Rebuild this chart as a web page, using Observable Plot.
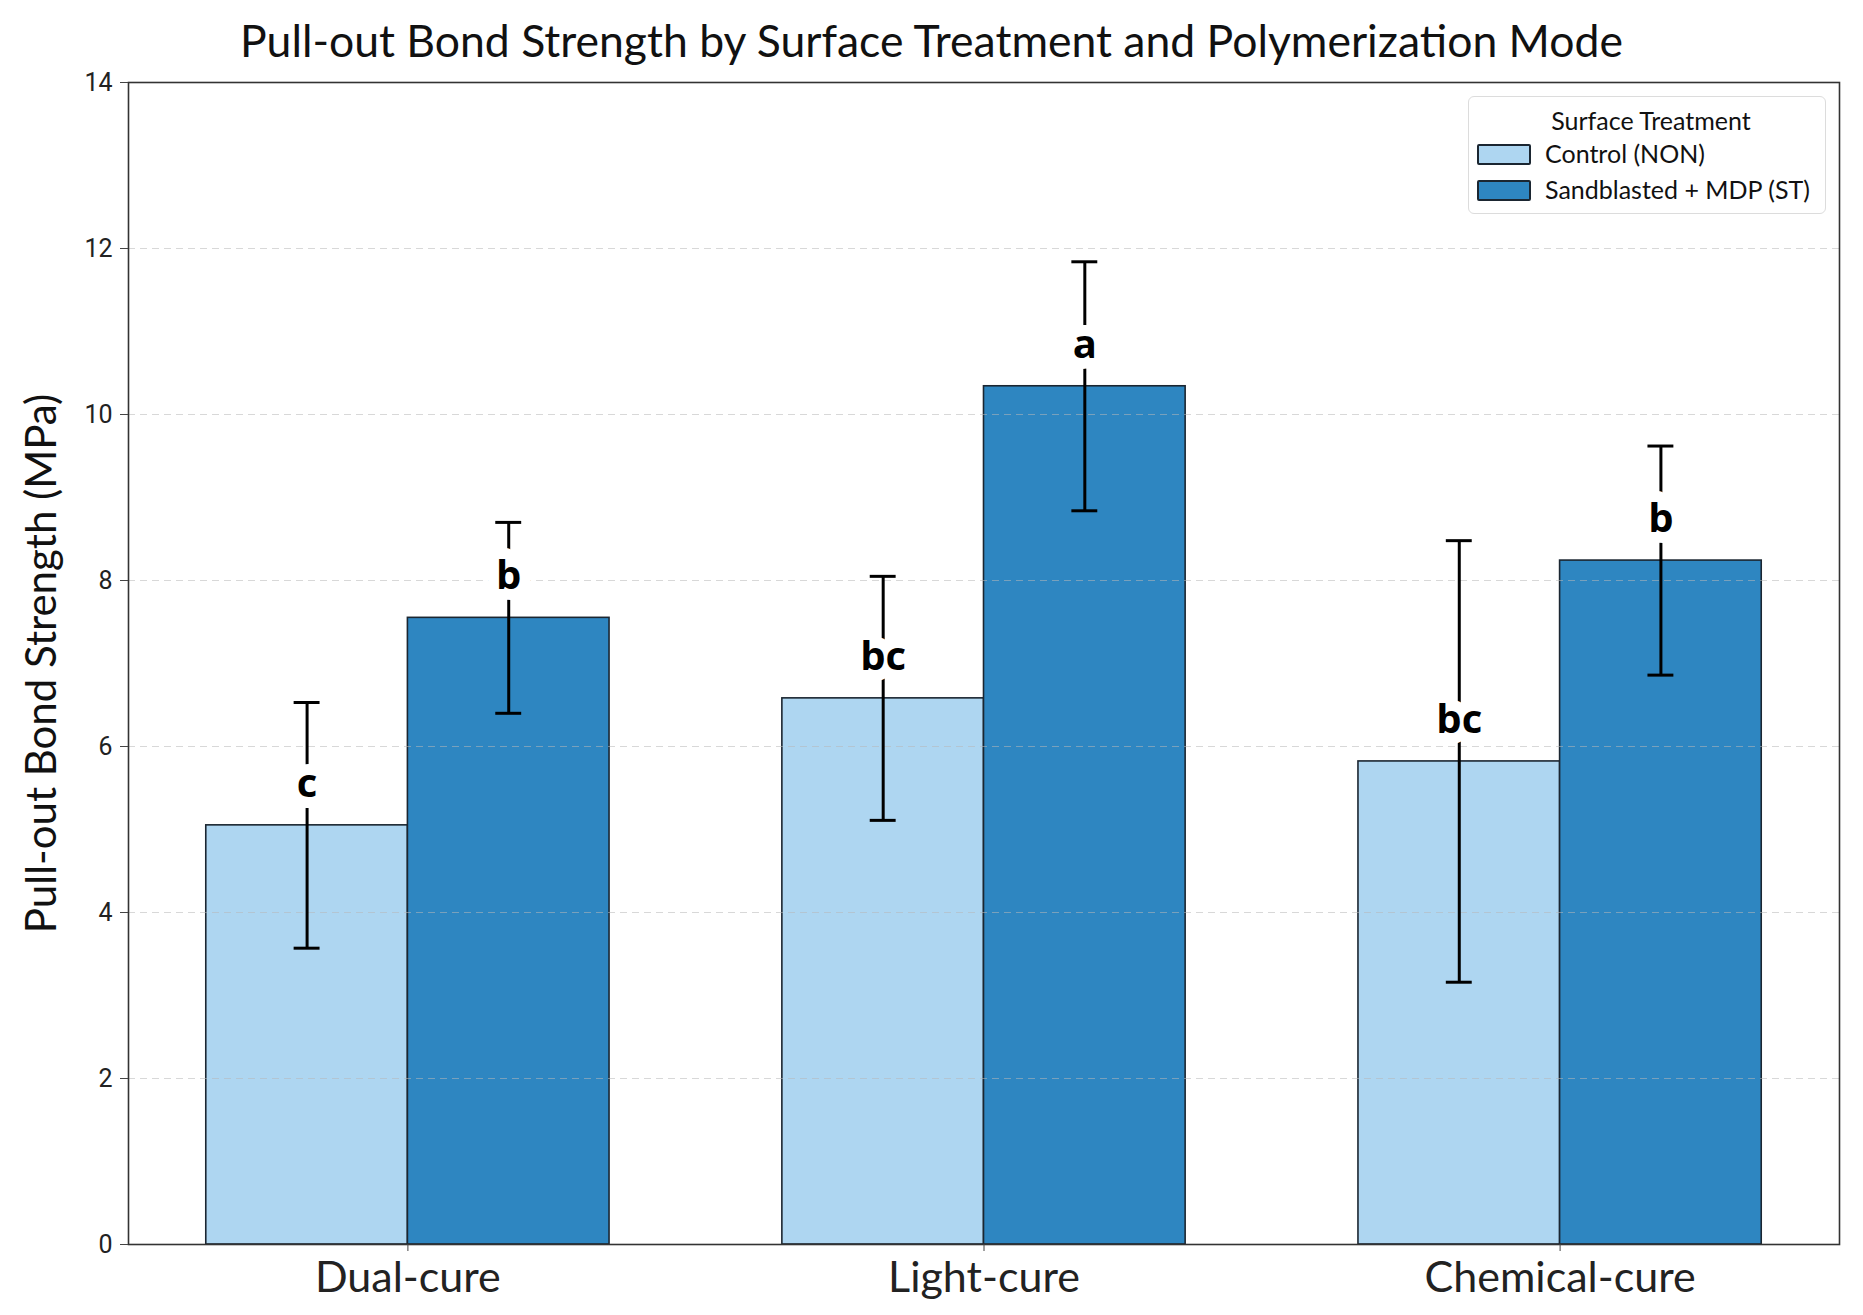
<!DOCTYPE html>
<html>
<head>
<meta charset="utf-8">
<script src="https://cdn.jsdelivr.net/npm/d3@7"></script>
<script src="https://cdn.jsdelivr.net/npm/@observablehq/plot@0.6"></script>
<style>
  body { margin: 0; background: #fff; }
  #wrap { position: relative; width: 1863px; height: 1315px; background: #fff; }
  #title { height: 70px; font-family: Lato, sans-serif; font-size: 44.5px; text-align: center; line-height: 80px; color: #111; white-space: nowrap; }
  #legend { position: absolute; left: 1468px; top: 96px; width: 358px; height: 118px; box-sizing: border-box;
            border: 1.5px solid #dcdcdc; border-radius: 6px; background: #fff; font-family: Lato, sans-serif; font-size: 25px; color: #111; }
  #legend .lt { position: absolute; left: 0; right: 0; top: 9px; text-align: center; line-height: 28px; padding-left: 8px; }
  #legend .row { position: absolute; left: 8px; height: 28px; line-height: 28px; white-space: nowrap; }
  #legend .sw { display: inline-block; width: 50px; height: 17px; border: 2px solid #1b2631; border-radius: 2px; vertical-align: middle; margin-right: 14px; position: relative; top: -2px; }
</style>
</head>
<body>
<div id="wrap">
  <div id="title"></div>
  <div id="chart"></div>
  <div id="legend"></div>
</div>
<script>
// ---- data ----
const titleText = "Pull-out Bond Strength by Surface Treatment and Polymerization Mode";
const yLabel = "Pull-out Bond Strength (MPa)";
const legendTitle = "Surface Treatment";
const categories = ["Dual-cure", "Light-cure", "Chemical-cure"];
const treatments = ["Control (NON)", "Sandblasted + MDP (ST)"];
const meanNON = [5.05, 6.58, 5.82];
const sdNON = [1.48, 1.47, 2.66];
const lettersNON = ["c", "bc", "bc"];
const meanST = [7.55, 10.34, 8.24];
const sdST = [1.15, 1.50, 1.38];
const lettersST = ["b", "a", "b"];
const yTicks = [0, 2, 4, 6, 8, 10, 12, 14];
const colors = ["#AED6F1", "#2E86C1"];

// ---- layout constants ----
const barW = 0.35;
const capW = 0.045;

const rows = [];
categories.forEach((c, i) => {
  rows.push({cat: c, t: treatments[0], pos: i - barW / 2, mean: meanNON[i], sd: sdNON[i], letter: lettersNON[i]});
  rows.push({cat: c, t: treatments[1], pos: i + barW / 2, mean: meanST[i], sd: sdST[i], letter: lettersST[i]});
});

document.getElementById("title").textContent = titleText;

const chart = Plot.plot({
  width: 1863,
  height: 1245,
  marginLeft: 128,
  marginRight: 24,
  marginTop: 12,
  marginBottom: 71,
  style: {fontFamily: "Lato, sans-serif", background: "#fff", color: "#222", overflow: "visible"},
  x: {domain: [-0.485, 2.485]},
  y: {domain: [0, 14]},
  color: {domain: treatments, range: colors},
  marks: [
    Plot.rect(rows, {x1: d => d.pos - barW / 2, x2: d => d.pos + barW / 2, y1: 0, y2: "mean",
      fill: "t", stroke: "#1b2631", strokeWidth: 1.6}),
    Plot.ruleY(yTicks.filter(v => v > 0 && v < 14), {stroke: "#b8b8b8", strokeOpacity: 0.55, strokeDasharray: "7,5", strokeWidth: 1.2}),
    Plot.ruleX(rows, {x: "pos", y1: d => d.mean - d.sd, y2: d => d.mean + d.sd, stroke: "#000", strokeWidth: 3}),
    Plot.ruleY(rows, {y: d => d.mean + d.sd, x1: d => d.pos - capW / 2, x2: d => d.pos + capW / 2, stroke: "#000", strokeWidth: 3}),
    Plot.ruleY(rows, {y: d => d.mean - d.sd, x1: d => d.pos - capW / 2, x2: d => d.pos + capW / 2, stroke: "#000", strokeWidth: 3}),
    Plot.text(rows, {x: "pos", y: d => d.mean + 0.5, text: "letter", fontSize: 40, fontWeight: "bold",
      fontFamily: "Open Sans, sans-serif", fill: "#000", stroke: "#fff", strokeWidth: 22, strokeLinejoin: "round", lineAnchor: "middle"}),
    Plot.frame({stroke: "#333", strokeWidth: 1.6}),
    Plot.axisY({ticks: yTicks, tickSize: 8, tickPadding: 8, fontSize: 25, fontFamily: "Roboto, sans-serif", label: null, stroke: "#444"}),
    Plot.axisX({ticks: [0, 1, 2], tickFormat: i => categories[i], tickSize: 7, tickPadding: 10, fontSize: 43, fontFamily: "Lato, sans-serif", label: null, stroke: "#444"}),
    Plot.text([yLabel], {text: d => d, frameAnchor: "left", textAnchor: "middle", lineAnchor: "middle", rotate: -90, dx: -86, fontSize: 42, fontFamily: "Lato, sans-serif", fill: "#111"})
  ]
});
document.getElementById("chart").appendChild(chart);

// legend
const lg = document.getElementById("legend");
const lt = document.createElement("div");
lt.className = "lt";
lt.textContent = legendTitle;
lg.appendChild(lt);
treatments.forEach((t, k) => {
  const r = document.createElement("div");
  r.className = "row";
  r.style.top = (42 + k * 36) + "px";
  const sw = document.createElement("span");
  sw.className = "sw";
  sw.style.background = colors[k];
  r.appendChild(sw);
  r.appendChild(document.createTextNode(t));
  lg.appendChild(r);
});
</script>
</body>
</html>
